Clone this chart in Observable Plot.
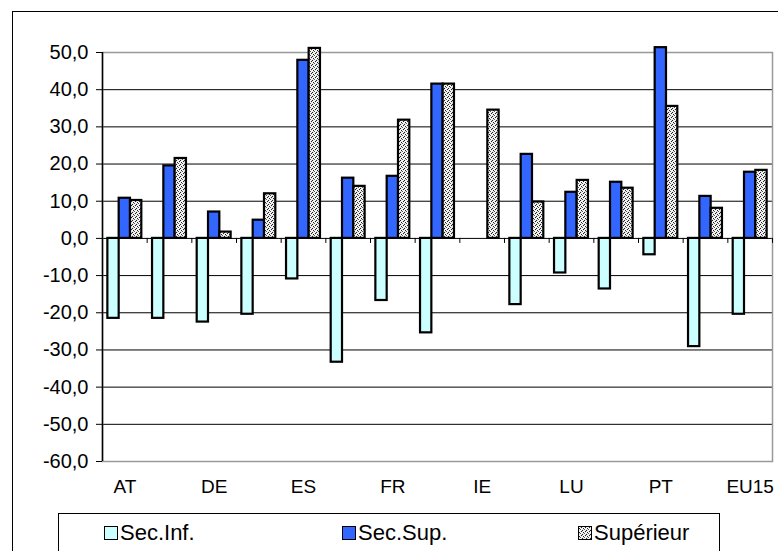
<!DOCTYPE html>
<html>
<head>
<meta charset="utf-8">
<script src="https://cdn.jsdelivr.net/npm/d3@7"></script>
<script src="https://cdn.jsdelivr.net/npm/@observablehq/plot@0.6"></script>
<style>
  body { margin: 0; width: 778px; height: 551px; overflow: hidden; position: relative; background: #fff;
         font-family: "Liberation Sans", Arial, sans-serif; }
  #chart { position: absolute; left: 0; top: 0; }
  #outer { position: absolute; left: 12px; top: 11px; width: 820px; height: 620px;
           border: 1.5px solid #000; box-sizing: border-box; pointer-events: none; }
  #legend { position: absolute; left: 58px; top: 513px; width: 662px; height: 70px;
            border: 1px solid #000; box-sizing: border-box; background: #fff; }
  .item { position: absolute; top: 6px; display: flex; align-items: center; font-size: 22px; color: #000; }
  .item svg { margin-right: 2px; }
</style>
</head>
<body>
<div id="chart"></div>
<div id="legend"></div>
<div id="outer"></div>
<script>
// Change 1995–2000 by education level, per country (%)
const countries = ["AT", "BE", "DE", "DK", "ES", "FI", "FR", "GR", "IE", "IT", "LU", "NL", "PT", "UK", "EU15"];
const seriesNames = ["Sec.Inf.", "Sec.Sup.", "Supérieur"];
const secInf    = [-21.5, -21.5, -22.5, -20.4, -10.9, -33.3, -16.7, -25.4, null, -17.8, -9.3, -13.6, -4.4, -29.1, -20.4];
const secSup    = [10.8, 19.5, 7.1, 4.9, 47.9, 16.2, 16.7, 41.5, null, 22.6, 12.4, 15.1, 51.3, 11.3, 17.8];
const superieur = [10.2, 21.5, 1.7, 12.0, 51.1, 14.0, 31.8, 41.5, 34.5, 9.8, 15.6, 13.5, 35.5, 8.1, 18.3];
const yTicks = d3.range(-60, 51, 10);

const seriesValues = [secInf, secSup, superieur];
const fills = ["#ccffff", "#3366ff", "url(#dots)"];

// clustered bars: each country occupies one unit on x, bars share (1 - gap) of it
const gap = 0.24;
const bw = (1 - gap) / seriesNames.length;

const rows = countries.flatMap((c, i) =>
  seriesValues.map((vals, k) => ({ country: c, i, k, series: seriesNames[k], value: vals[i] }))
).filter(d => d.value != null);

const fmt = d => d.toFixed(1).replace(".", ",");

const barMarks = seriesNames.map((s, k) =>
  Plot.rect(rows.filter(d => d.k === k), {
    x1: d => d.i + gap / 2 + d.k * bw,
    x2: d => d.i + gap / 2 + (d.k + 1) * bw,
    y1: 0,
    y2: "value",
    fill: fills[k],
    stroke: "#000",
    strokeWidth: 2.2
  })
);

const chart = Plot.plot({
  width: 778,
  height: 508,
  marginLeft: 102,
  marginRight: 6,
  marginTop: 52,
  marginBottom: 47,
  style: { fontFamily: "'Liberation Sans', Arial, sans-serif", fontSize: "20px", color: "#000", background: "transparent", overflow: "visible" },
  x: { domain: [0, countries.length], axis: null },
  y: { domain: [-60, 50], axis: null },
  marks: [
    Plot.ruleY(yTicks.filter(v => v > -60 && v < 50), { stroke: "#000", strokeWidth: 1 }),
    Plot.frame({ stroke: "#999", strokeWidth: 1.5 }),
    Plot.ruleX([0], { stroke: "#000", strokeWidth: 1.5 }),
    Plot.ruleX(d3.range(1, countries.length + 1), { y1: 0, y2: 0, insetBottom: -5, stroke: "#000", strokeWidth: 1 }),
    Plot.axisY({ ticks: yTicks, tickFormat: fmt, tickSize: 6, tickPadding: 8, fontSize: 20, label: null, stroke: "#000" }),
    Plot.axisX({
      ticks: countries.map((c, i) => i + 0.5).filter((_, i) => i % 2 === 0),
      tickFormat: d => countries[Math.floor(d)],
      tickSize: 0, tickPadding: 18, fontSize: 19, label: null
    }),
    ...barMarks
  ]
});

// dotted texture used for the "Supérieur" bars
const defs = d3.select(chart).insert("defs", ":first-child");
const pat = defs.append("pattern").attr("id", "dots")
  .attr("width", 4).attr("height", 4).attr("patternUnits", "userSpaceOnUse");
pat.append("rect").attr("width", 4).attr("height", 4).attr("fill", "#e4e4e4");
[[0, 0, "#222"], [3, 1, "#222"], [1, 2, "#222"], [2, 3, "#555"],
 [2, 0, "#fff"], [0, 2, "#fff"], [1, 1, "#fff"], [3, 3, "#fff"], [2, 2, "#fff"]]
  .forEach(([x, y, c]) => pat.append("rect").attr("x", x).attr("y", y).attr("width", 1).attr("height", 1).attr("fill", c));

document.getElementById("chart").appendChild(chart);

// legend row
const legend = d3.select("#legend");
const legendLeft = [45, 283, 519];
seriesNames.forEach((s, k) => {
  const item = legend.append("div").attr("class", "item").style("left", legendLeft[k] + "px");
  const sw = item.append("svg").attr("width", 14).attr("height", 14);
  sw.append("rect").attr("x", 0.5).attr("y", 0.5).attr("width", 13).attr("height", 13)
    .attr("fill", fills[k]).attr("stroke", "#000").attr("stroke-width", 1);
  item.append("span").text(s);
});
</script>
</body>
</html>
